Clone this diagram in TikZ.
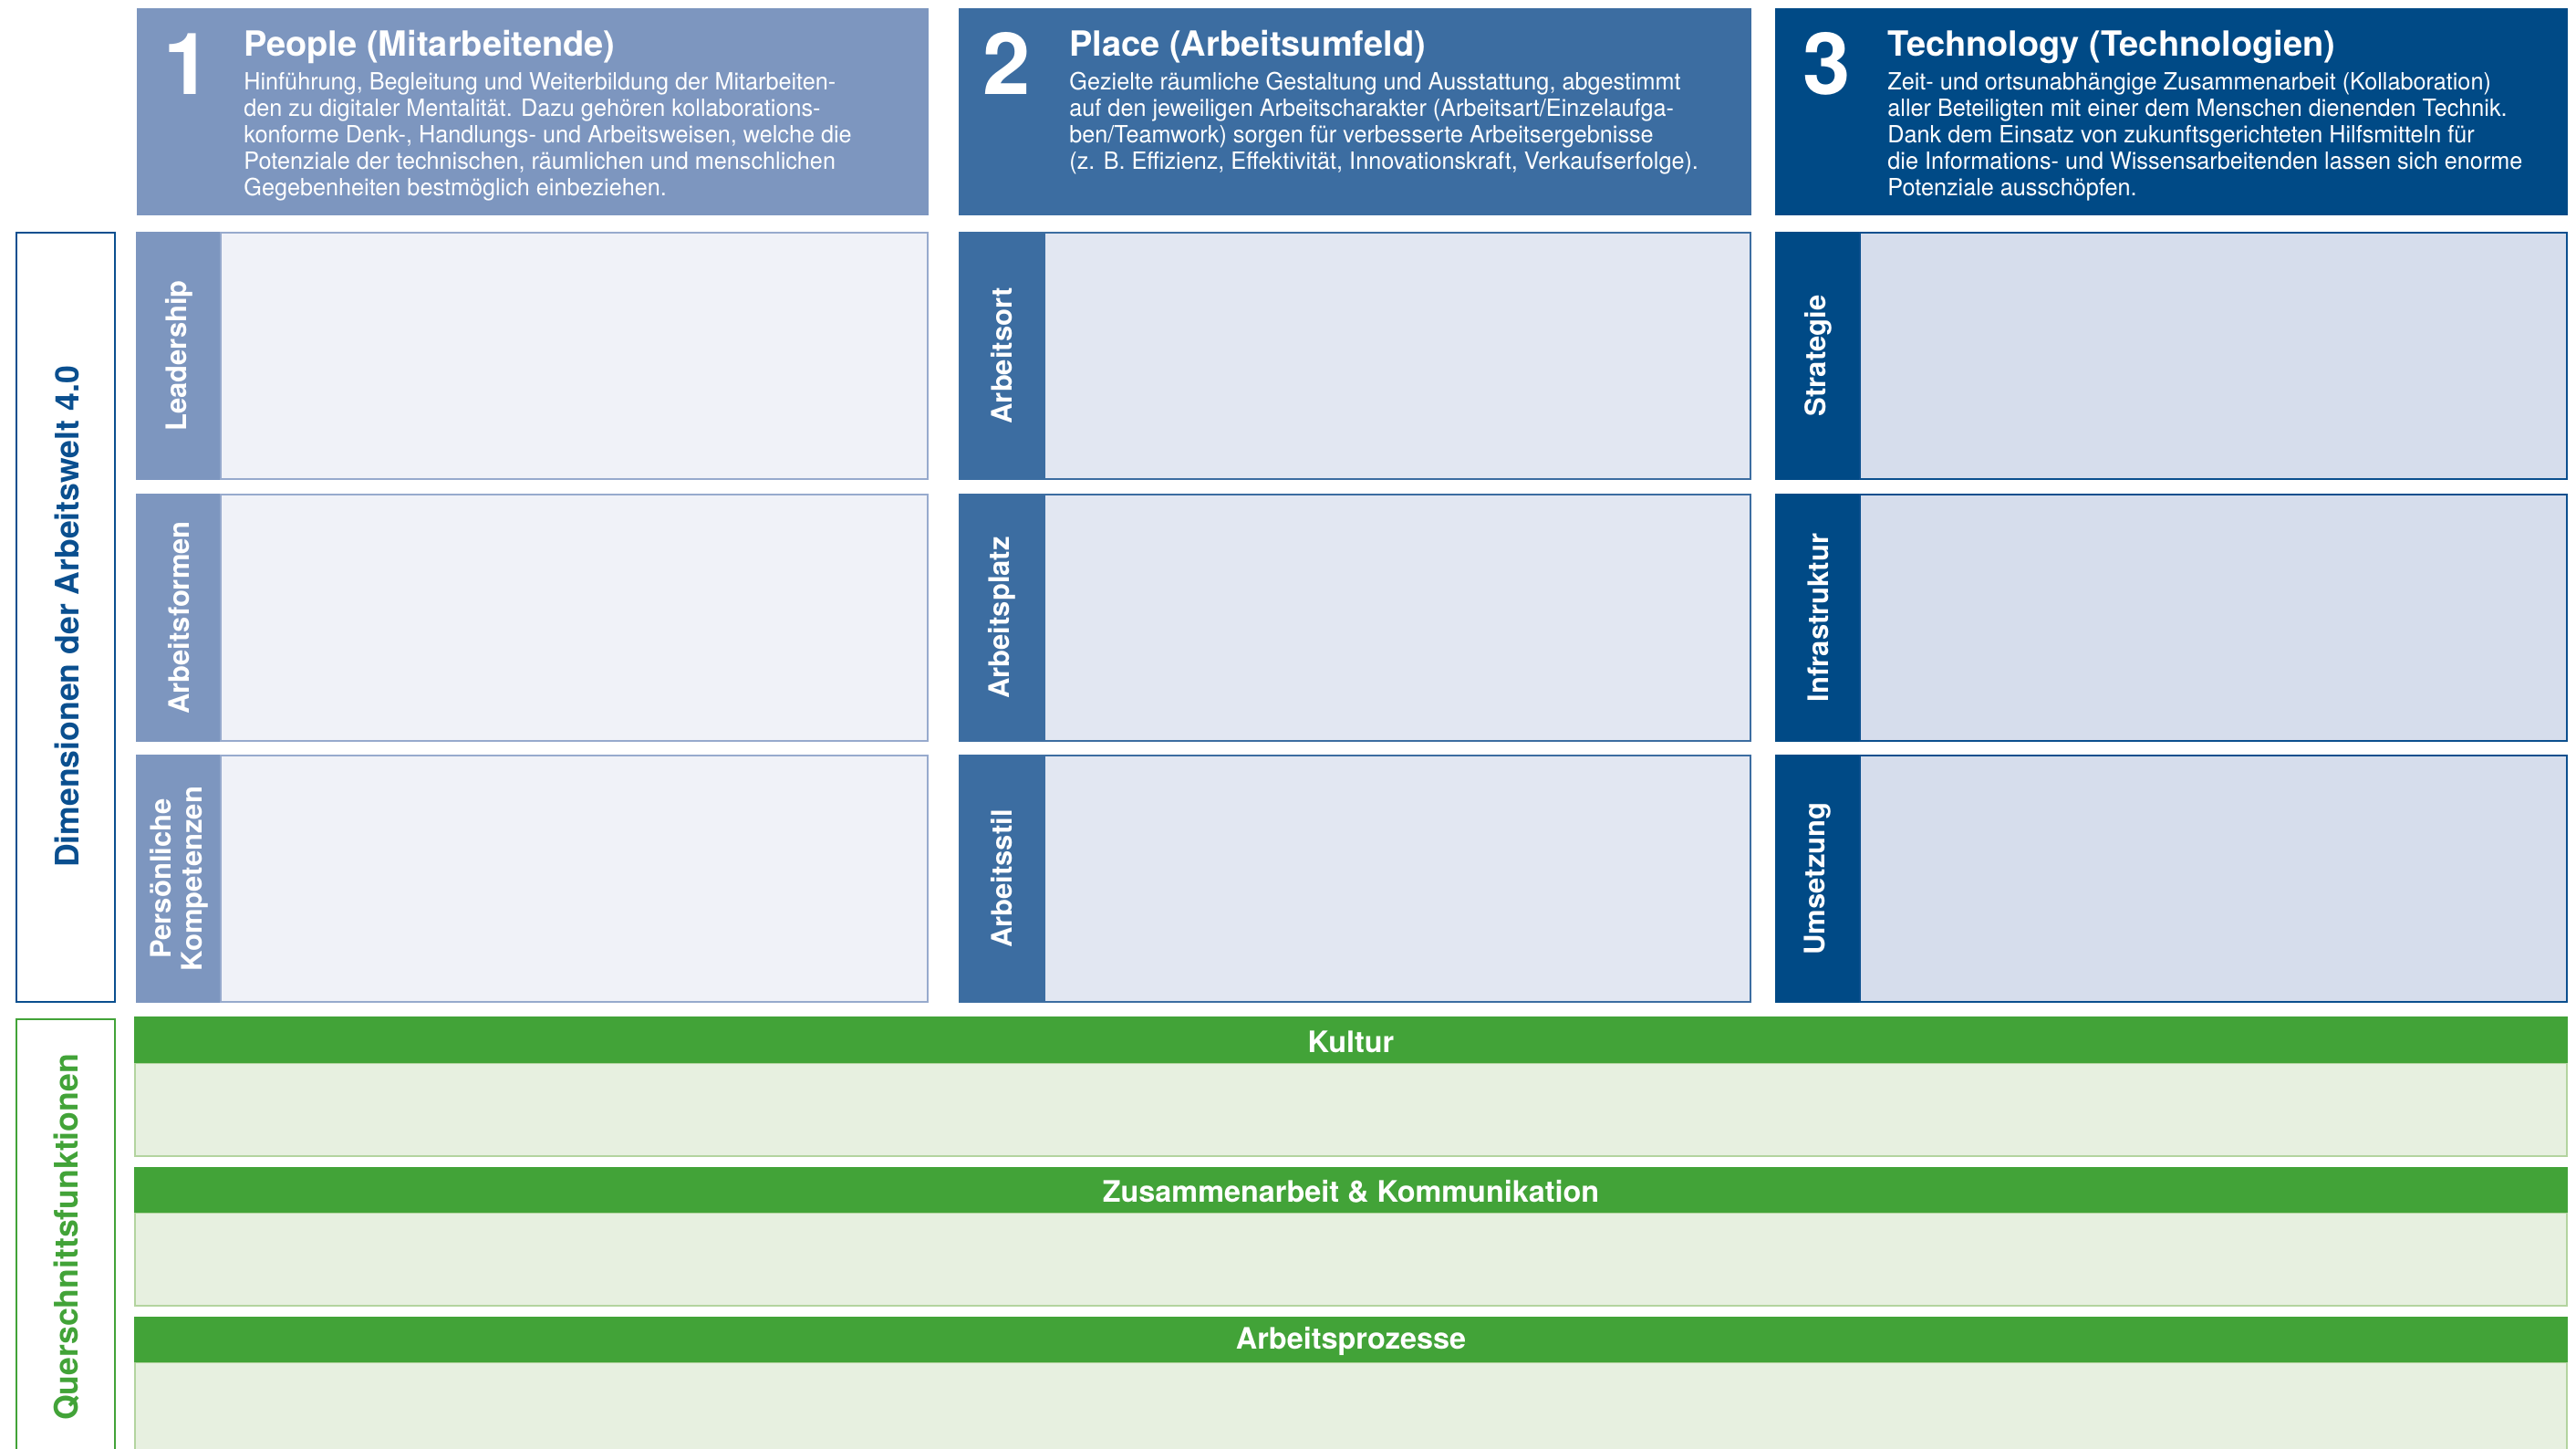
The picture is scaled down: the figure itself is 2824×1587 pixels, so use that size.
\documentclass[tikz,border=0pt]{standalone}
\usepackage{fontspec}
\setmainfont{TeX Gyre Heros}
\newfontfamily\bodyfont[FakeStretch=0.97]{TeX Gyre Heros}
\definecolor{cA}{HTML}{7D96BF}
\definecolor{cB}{HTML}{3C6DA1}
\definecolor{cC}{HTML}{004A86}
\definecolor{fA}{HTML}{F0F2F8}
\definecolor{fB}{HTML}{E2E7F2}
\definecolor{fC}{HTML}{D6DDEC}
\definecolor{bA}{HTML}{97AACD}
\definecolor{bB}{HTML}{3C6DA1}
\definecolor{bC}{HTML}{0B4F8E}
\definecolor{gr}{HTML}{42A338}
\definecolor{gl}{HTML}{E7F0E0}
\definecolor{gb}{HTML}{B3D49F}
\definecolor{dblue}{HTML}{0A4F8F}
\begin{document}
\begin{tikzpicture}[x=0.5pt,y=-0.5pt,
  numtxt/.style={anchor=base west,inner sep=0pt,text=white,font=\fontsize{47}{47}\selectfont\bfseries},
  titletxt/.style={anchor=base west,inner sep=0pt,text depth=0pt,text=white,font=\fontsize{19}{19}\selectfont\bfseries},
  bodytxt/.style={anchor=north west,inner sep=0pt,text=white,align=left,font=\bodyfont\fontsize{13}{14.5}\selectfont},
  striplabel/.style={rotate=90,inner sep=0pt,text=white,align=center,font=\fontsize{15.5}{17}\selectfont\bfseries},
  sidelabel/.style={rotate=90,inner sep=0pt,font=\fontsize{17.8}{20}\selectfont\bfseries},
  barlabel/.style={inner sep=0pt,text=white,font=\fontsize{16.2}{18}\selectfont\bfseries}]
\useasboundingbox (0,0) rectangle (2824,1587);
% header boxes
\fill[cA] (150,9) rectangle (1018,236);
\fill[cB] (1051,9) rectangle (1920,236);
\fill[cC] (1946,9) rectangle (2815,236);
% grid rows
\foreach \t/\b in {254/526,541/813,827/1099}{
  \fill[cA] (149,\t) rectangle (242,\b);
  \draw[bA,fill=fA,line width=1pt] (242,\t+1) rectangle (1017,\b-1);
  \fill[cB] (1051,\t) rectangle (1145,\b);
  \draw[bB,fill=fB,line width=1pt] (1145,\t+1) rectangle (1919,\b-1);
  \fill[cC] (1946,\t) rectangle (2039,\b);
  \draw[bC,fill=fC,line width=1.2pt] (2039,\t+1) rectangle (2814,\b-1);
}
% green bands
\foreach \t/\m/\b in {1114/1165/1267,1279/1329/1431,1443/1493/1620}{
  \draw[gb,fill=gl,line width=1.2pt] (148,\m) rectangle (2814,\b);
  \fill[gr] (147,\t) rectangle (2815,\m);
}
% side boxes
\draw[dblue,line width=1.2pt] (18,255) rectangle (126,1098);
\draw[gr,line width=1.2pt] (18,1117) rectangle (126,1620);
% header texts
\node[numtxt] (n1) at (179,103) {1};
\node[titletxt] (t1) at (267,61) {People (Mitarbeitende)};
\node[bodytxt] (d1) at (267,79) {Hinführung, Begleitung und Weiterbildung der Mitarbeiten-\\den zu digitaler Mentalität. Dazu gehören kollaborations-\\konforme Denk-, Handlungs- und Arbeitsweisen, welche die\\Potenziale der technischen, räumlichen und menschlichen\\Gegebenheiten bestmöglich einbeziehen.};
\node[numtxt] (n2) at (1077,103) {2};
\node[titletxt] (t2) at (1172,61) {Place (Arbeitsumfeld)};
\node[bodytxt] (d2) at (1172,79) {Gezielte räumliche Gestaltung und Ausstattung, abgestimmt\\auf den jeweiligen Arbeitscharakter (Arbeitsart/Einzelaufga-\\ben/Teamwork) sorgen für verbesserte Arbeitsergebnisse\\(z. B. Effizienz, Effektivität, Innovationskraft, Verkaufserfolge).};
\node[numtxt] (n3) at (1976,103) {3};
\node[titletxt] (t3) at (2069,61) {Technology (Technologien)};
\node[bodytxt] (d3) at (2069,79) {Zeit- und ortsunabhängige Zusammenarbeit (Kollaboration)\\aller Beteiligten mit einer dem Menschen dienenden Technik.\\Dank dem Einsatz von zukunftsgerichteten Hilfsmitteln für\\die Informations- und Wissensarbeitenden lassen sich enorme\\Potenziale ausschöpfen.};
% strip labels
\node[striplabel] (l11) at (196,390) {Leadership};
\node[striplabel] (l12) at (196,677) {Arbeitsformen};
\node[striplabel] (l13) at (196,963) {Persönliche\\Kompetenzen};
\node[striplabel] (l21) at (1098,390) {Arbeitsort};
\node[striplabel] (l22) at (1098,677) {Arbeitsplatz};
\node[striplabel] (l23) at (1098,963) {Arbeitsstil};
\node[striplabel] (l31) at (1993,390) {Strategie};
\node[striplabel] (l32) at (1993,677) {Infrastruktur};
\node[striplabel] (l33) at (1993,963) {Umsetzung};
% side labels
\node[sidelabel,text=dblue] (dim) at (73,676) {Dimensionen der Arbeitswelt 4.0};
\node[sidelabel,text=gr] (qf) at (73,1356) {Querschnittsfunktionen};
% bar labels
\node[barlabel] (k1) at (1481,1142) {Kultur};
\node[barlabel] (k2) at (1481,1306) {Zusammenarbeit \& Kommunikation};
\node[barlabel] (k3) at (1481,1470) {Arbeitsprozesse};
\end{tikzpicture}
\end{document}
